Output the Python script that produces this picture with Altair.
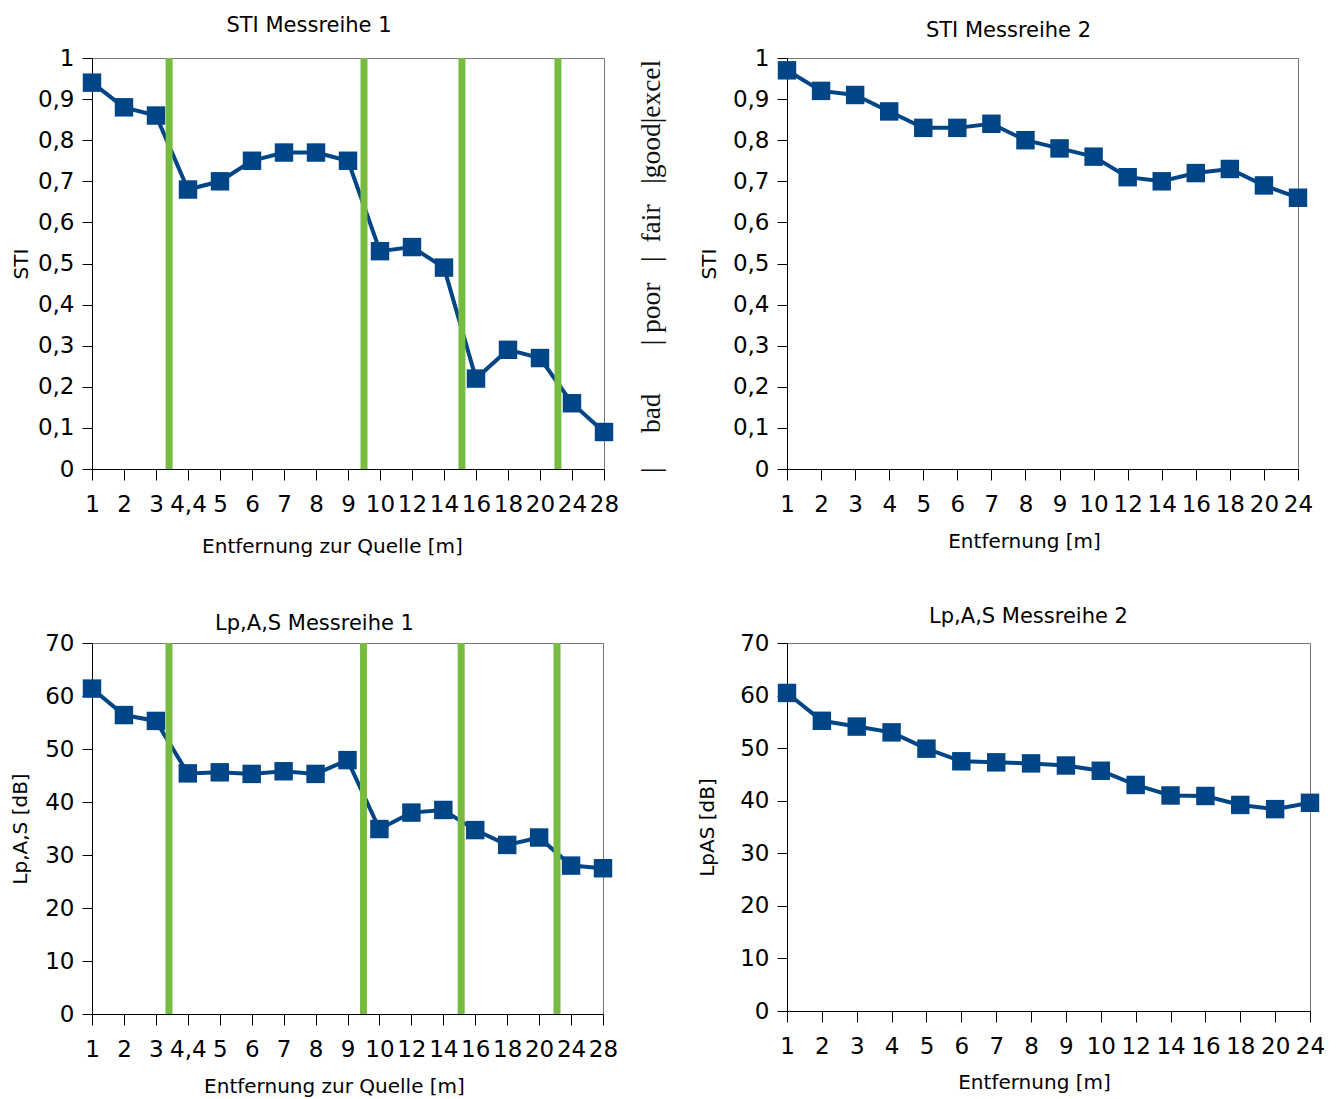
import json
import altair as alt
import pandas as pd

# ---- data ----
dist1 = ["1", "2", "3", "4,4", "5", "6", "7", "8", "9", "10", "12", "14", "16", "18", "20", "24", "28"]
sti1 = [0.94, 0.88, 0.86, 0.68, 0.70, 0.75, 0.77, 0.77, 0.75, 0.53, 0.54, 0.49, 0.22, 0.29, 0.27, 0.16, 0.09]
lpas1 = [61.4, 56.4, 55.3, 45.4, 45.6, 45.3, 45.8, 45.3, 47.9, 34.9, 38.0, 38.5, 34.7, 31.9, 33.3, 28.0, 27.5]

dist2 = ["1", "2", "3", "4", "5", "6", "7", "8", "9", "10", "12", "14", "16", "18", "20", "24"]
sti2 = [0.97, 0.92, 0.91, 0.87, 0.83, 0.83, 0.84, 0.80, 0.78, 0.76, 0.71, 0.70, 0.72, 0.73, 0.69, 0.66]
lpas2 = [60.5, 55.2, 54.1, 53.0, 49.9, 47.5, 47.3, 47.1, 46.7, 45.7, 43.0, 41.0, 40.9, 39.2, 38.4, 39.6]

# boundaries between STI classes (positions on the category index axis)
class_bounds = [2.41, 8.5, 11.56, 14.56]
NB = "\u00a0"
class_text = ("|" + NB * 5 + "bad" + NB * 7 + "|" + NB + "poor" + NB * 3 + "|" + NB * 2
              + "fair" + NB * 3 + "|good|excel")

BLUE = "#004586"
GREEN = "#77bc41"
FONT = "DejaVu Sans"


def panel(labels, values, title, ytitle, xtitle, ymax, ystep, ydec, width, height,
          title_offset, title_dx, xtitle_x, xtitle_pad, ytitle_pad, bounds=None, note=False):
    df = pd.DataFrame({"idx": list(range(len(labels))), "val": values})
    n = len(labels)
    lab_expr = json.dumps(labels) + "[datum.value]"
    yvals = [round(i * ystep, 3) for i in range(int(round(ymax / ystep)) + 1)]
    ylab = "replace(format(datum.value, '.1~f'), '.', ',')" if ydec else "format(datum.value, 'd')"
    xscale = alt.Scale(domain=[0, n - 1], nice=False, zero=False)
    xaxis = alt.Axis(values=list(range(n)), labelExpr=lab_expr, title=xtitle,
                     labelOverlap=False, labelFlush=False, labelBound=False,
                     tickSize=11, labelPadding=13, titlePadding=xtitle_pad,
                     titleX=xtitle_x, grid=False)
    x = alt.X("idx:Q", scale=xscale, axis=xaxis)
    y = alt.Y("val:Q",
              scale=alt.Scale(domain=[0, ymax], nice=False),
              axis=alt.Axis(values=yvals, labelExpr=ylab, title=ytitle,
                            labelFlush=False, tickSize=10, labelPadding=8,
                            titlePadding=ytitle_pad, grid=False))
    base = alt.Chart(df).encode(x=x, y=y)
    line = base.mark_line(color=BLUE, strokeWidth=4)
    pts = base.mark_square(color=BLUE, size=340, opacity=1)
    layers = [line, pts]
    if bounds is not None:
        bdf = pd.DataFrame({"b": bounds})
        rules = alt.Chart(bdf).mark_rule(color=GREEN, strokeWidth=7).encode(
            x=alt.X("b:Q", scale=xscale, axis=xaxis, title=xtitle))
        layers.append(rules)
    if note:
        txt = alt.Chart(pd.DataFrame({"t": [class_text]})).mark_text(
            angle=270, align="left", baseline="alphabetic", font="Liberation Serif",
            fontSize=27.5, color="#111111"
        ).encode(text="t:N", x=alt.value(width + 56), y=alt.value(height + 4))
        layers.append(txt)
    return alt.layer(*layers).properties(
        width=width, height=height,
        title=alt.TitleParams(title, offset=title_offset, dx=title_dx, frame="group",
                              baseline="alphabetic"),
    )


p1 = panel(dist1, sti1, "STI Messreihe 1", "STI", "Entfernung zur Quelle [m]", 1.0, 0.1, True,
           512, 411, -6, -39, 240, 20, 6, bounds=class_bounds, note=True)
p2 = panel(dist2, sti2, "STI Messreihe 2", "STI", "Entfernung [m]", 1.0, 0.1, True,
           511, 411, -11, -34, 237, 15, 13)
p3 = panel(dist1, lpas1, "Lp,A,S Messreihe 1", "Lp,A,S  [dB]", "Entfernung zur Quelle [m]", 70, 10, False,
           511, 371, -19, -33, 242, 15, 14, bounds=class_bounds)
p4 = panel(dist2, lpas2, "Lp,A,S Messreihe 2", "LpAS [dB]", "Entfernung [m]", 70, 10, False,
           523, 368, -12, -20, 247, 14, 22)

chart = alt.concat(p1, p2, p3, p4, columns=2,
                   spacing={"row": 174, "column": 183},
                   bounds="flush", align="each").properties(
    padding={"left": 2, "top": 6, "right": 5, "bottom": 5},
    background="white",
).configure_axis(
    labelFont=FONT, titleFont=FONT, labelFontSize=23, titleFontSize=20,
    labelColor="black", titleColor="black", titleFontWeight="normal",
    domainColor="black", tickColor="black", grid=False,
).configure_view(stroke="#777777", strokeWidth=1).configure_title(
    font=FONT, fontSize=21, fontWeight="normal", color="black", anchor="middle"
)

chart.save("out.html", embed_options={"renderer": "svg", "actions": False})
